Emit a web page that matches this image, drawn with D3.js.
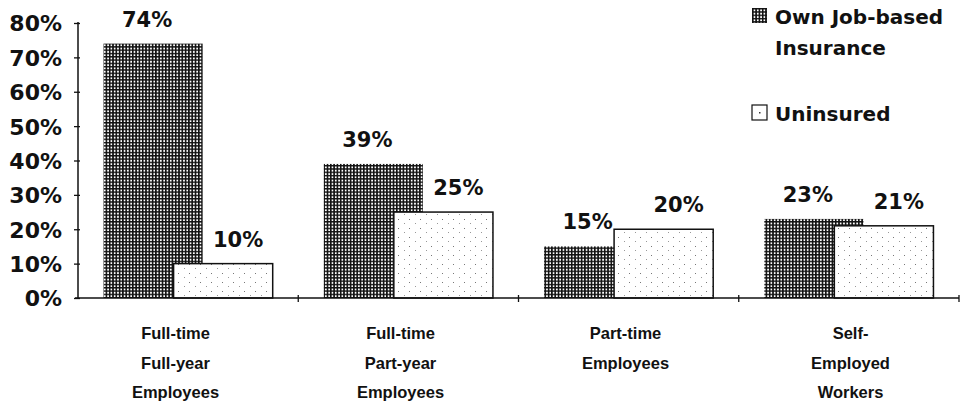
<!DOCTYPE html>
<html>
<head>
<meta charset="utf-8">
<script src="https://cdn.jsdelivr.net/npm/d3@7"></script>
<style>
  html, body { margin: 0; padding: 0; background: #fff; }
  svg { display: block; }
  .tick-label, .value-label, .legend-label { font-family: "DejaVu Sans", sans-serif; font-weight: bold; fill: #111; }
  .cat-label { font-family: "Liberation Sans", Arial, sans-serif; font-weight: bold; fill: #111; }
</style>
</head>
<body>
<svg id="chart" width="976" height="407"></svg>
<script>
// Work status groups (multi-line labels)
const categories = [
  ["Full-time", "Full-year", "Employees"],
  ["Full-time", "Part-year", "Employees"],
  ["Part-time", "Employees"],
  ["Self-", "Employed", "Workers"]
];
const seriesNames = ["Own Job-based Insurance", "Uninsured"];
const ownJobBased = [74, 39, 15, 23];
const uninsured = [10, 25, 20, 21];
const yTicks = [0, 10, 20, 30, 40, 50, 60, 70, 80];

const svg = d3.select("#chart");
const margin = { left: 78, right: 17, top: 23, bottom: 109 };
const W = 976, H = 407;
const plotBottom = H - margin.bottom;

const x = d3.scaleBand()
  .domain(d3.range(categories.length))
  .range([margin.left, W - margin.right])
  .padding(0);
// category captions sit on their own, slightly wider spacing
const xLabel = d3.scaleBand()
  .domain(d3.range(categories.length))
  .range([63, 963]);
const y = d3.scaleLinear().domain([0, 80]).range([plotBottom, margin.top]);

const bw = x.bandwidth();
const barW = bw * 0.45;
const step = bw * 0.318;
const groupW = barW + step;
const start = (bw - groupW) / 2;

// Fill patterns
const defs = svg.append("defs");
const grid = defs.append("pattern")
  .attr("id", "gridFill").attr("patternUnits", "userSpaceOnUse")
  .attr("width", 3.3).attr("height", 3.3);
grid.append("rect").attr("width", 3.3).attr("height", 3.3).attr("fill", "#fff");
grid.append("rect").attr("width", 1.6).attr("height", 3.3).attr("fill", "#111");
grid.append("rect").attr("width", 3.3).attr("height", 1.4).attr("fill", "#111");

const dots = defs.append("pattern")
  .attr("id", "dotFill").attr("patternUnits", "userSpaceOnUse")
  .attr("width", 11).attr("height", 9);
dots.append("rect").attr("width", 11).attr("height", 9).attr("fill", "#fff");
dots.append("rect").attr("x", 2).attr("y", 3).attr("width", 1).attr("height", 1).attr("fill", "#777");
dots.append("rect").attr("x", 8).attr("y", 7).attr("width", 1).attr("height", 1).attr("fill", "#999");

// Own job-based bars (drawn first, partially covered)
svg.append("g").selectAll("rect")
  .data(ownJobBased)
  .join("rect")
  .attr("x", (d, i) => x(i) + start)
  .attr("y", d => y(d))
  .attr("width", barW)
  .attr("height", d => y(0) - y(d))
  .attr("fill", "url(#gridFill)");

// Uninsured bars (overlapping on the right)
svg.append("g").selectAll("rect")
  .data(uninsured)
  .join("rect")
  .attr("x", (d, i) => x(i) + start + step)
  .attr("y", d => y(d))
  .attr("width", barW)
  .attr("height", d => y(0) - y(d))
  .attr("fill", "url(#dotFill)")
  .attr("stroke", "#111")
  .attr("stroke-width", 1.5);

// Value labels
svg.append("g").selectAll("text")
  .data(ownJobBased)
  .join("text")
  .attr("class", "value-label")
  .attr("x", (d, i) => x(i) + start + barW / 2 - 6)
  .attr("y", d => y(d) - 17)
  .attr("text-anchor", "middle")
  .attr("font-size", 21)
  .text(d => d + "%");

svg.append("g").selectAll("text")
  .data(uninsured)
  .join("text")
  .attr("class", "value-label")
  .attr("x", (d, i) => x(i) + start + step + barW / 2 + 15)
  .attr("y", d => y(d) - 17)
  .attr("text-anchor", "middle")
  .attr("font-size", 21)
  .text(d => d + "%");

// Y axis
const yAxis = svg.append("g")
  .attr("transform", `translate(${margin.left},0)`)
  .call(d3.axisLeft(y).tickValues(yTicks).tickSize(0).tickFormat(d => d + "%"));
yAxis.select(".domain").remove();
yAxis.selectAll("text")
  .attr("class", "tick-label")
  .attr("x", -16)
  .attr("dy", "0.36em")
  .attr("font-size", 22)
  .attr("font-family", null);
yAxis.selectAll(".tick").append("line")
  .attr("x1", -4).attr("x2", 2).attr("stroke", "#111").attr("stroke-width", 1.3);
yAxis.append("line")
  .attr("y1", y(80) - 1).attr("y2", y(0) + 1)
  .attr("stroke", "#111").attr("stroke-width", 1.5);

// X axis baseline with boundary ticks
const xAxis = svg.append("g").attr("transform", `translate(0,${plotBottom})`);
xAxis.append("line")
  .attr("x1", margin.left - 3).attr("x2", W - margin.right)
  .attr("stroke", "#111").attr("stroke-width", 1.5);
xAxis.selectAll(".bt")
  .data(d3.range(1, categories.length + 1))
  .join("line")
  .attr("class", "bt")
  .attr("x1", i => x(i - 1) + bw).attr("x2", i => x(i - 1) + bw)
  .attr("y1", -3).attr("y2", 4)
  .attr("stroke", "#111").attr("stroke-width", 1.3);

// Category labels
const catG = svg.append("g").selectAll("text")
  .data(categories)
  .join("text")
  .attr("class", "cat-label")
  .attr("text-anchor", "middle")
  .attr("font-size", 16.5)
  .attr("transform", (d, i) => `translate(${xLabel(i) + xLabel.bandwidth() / 2},339)`);
catG.selectAll("tspan")
  .data(d => d)
  .join("tspan")
  .attr("x", 0)
  .attr("y", (d, j) => j * 29.5)
  .text(d => d);

// Legend
const legend = svg.append("g").attr("transform", "translate(752,8)");
legend.append("rect").attr("width", 15).attr("height", 15).attr("fill", "url(#gridFill)");
legend.append("text").attr("class", "legend-label").attr("font-size", 20)
  .selectAll("tspan").data(["Own Job-based", "Insurance"]).join("tspan")
  .attr("x", 23).attr("y", (d, j) => 16 + j * 31).text(d => d);
legend.append("rect").attr("y", 97).attr("width", 15).attr("height", 15)
  .attr("fill", "#fff").attr("stroke", "#111").attr("stroke-width", 1.2);
legend.append("rect").attr("x", 7).attr("y", 104).attr("width", 1.5).attr("height", 1.5).attr("fill", "#333");
legend.append("text").attr("class", "legend-label").attr("font-size", 20)
  .attr("x", 23).attr("y", 113).text(seriesNames[1]);
</script>
</body>
</html>
